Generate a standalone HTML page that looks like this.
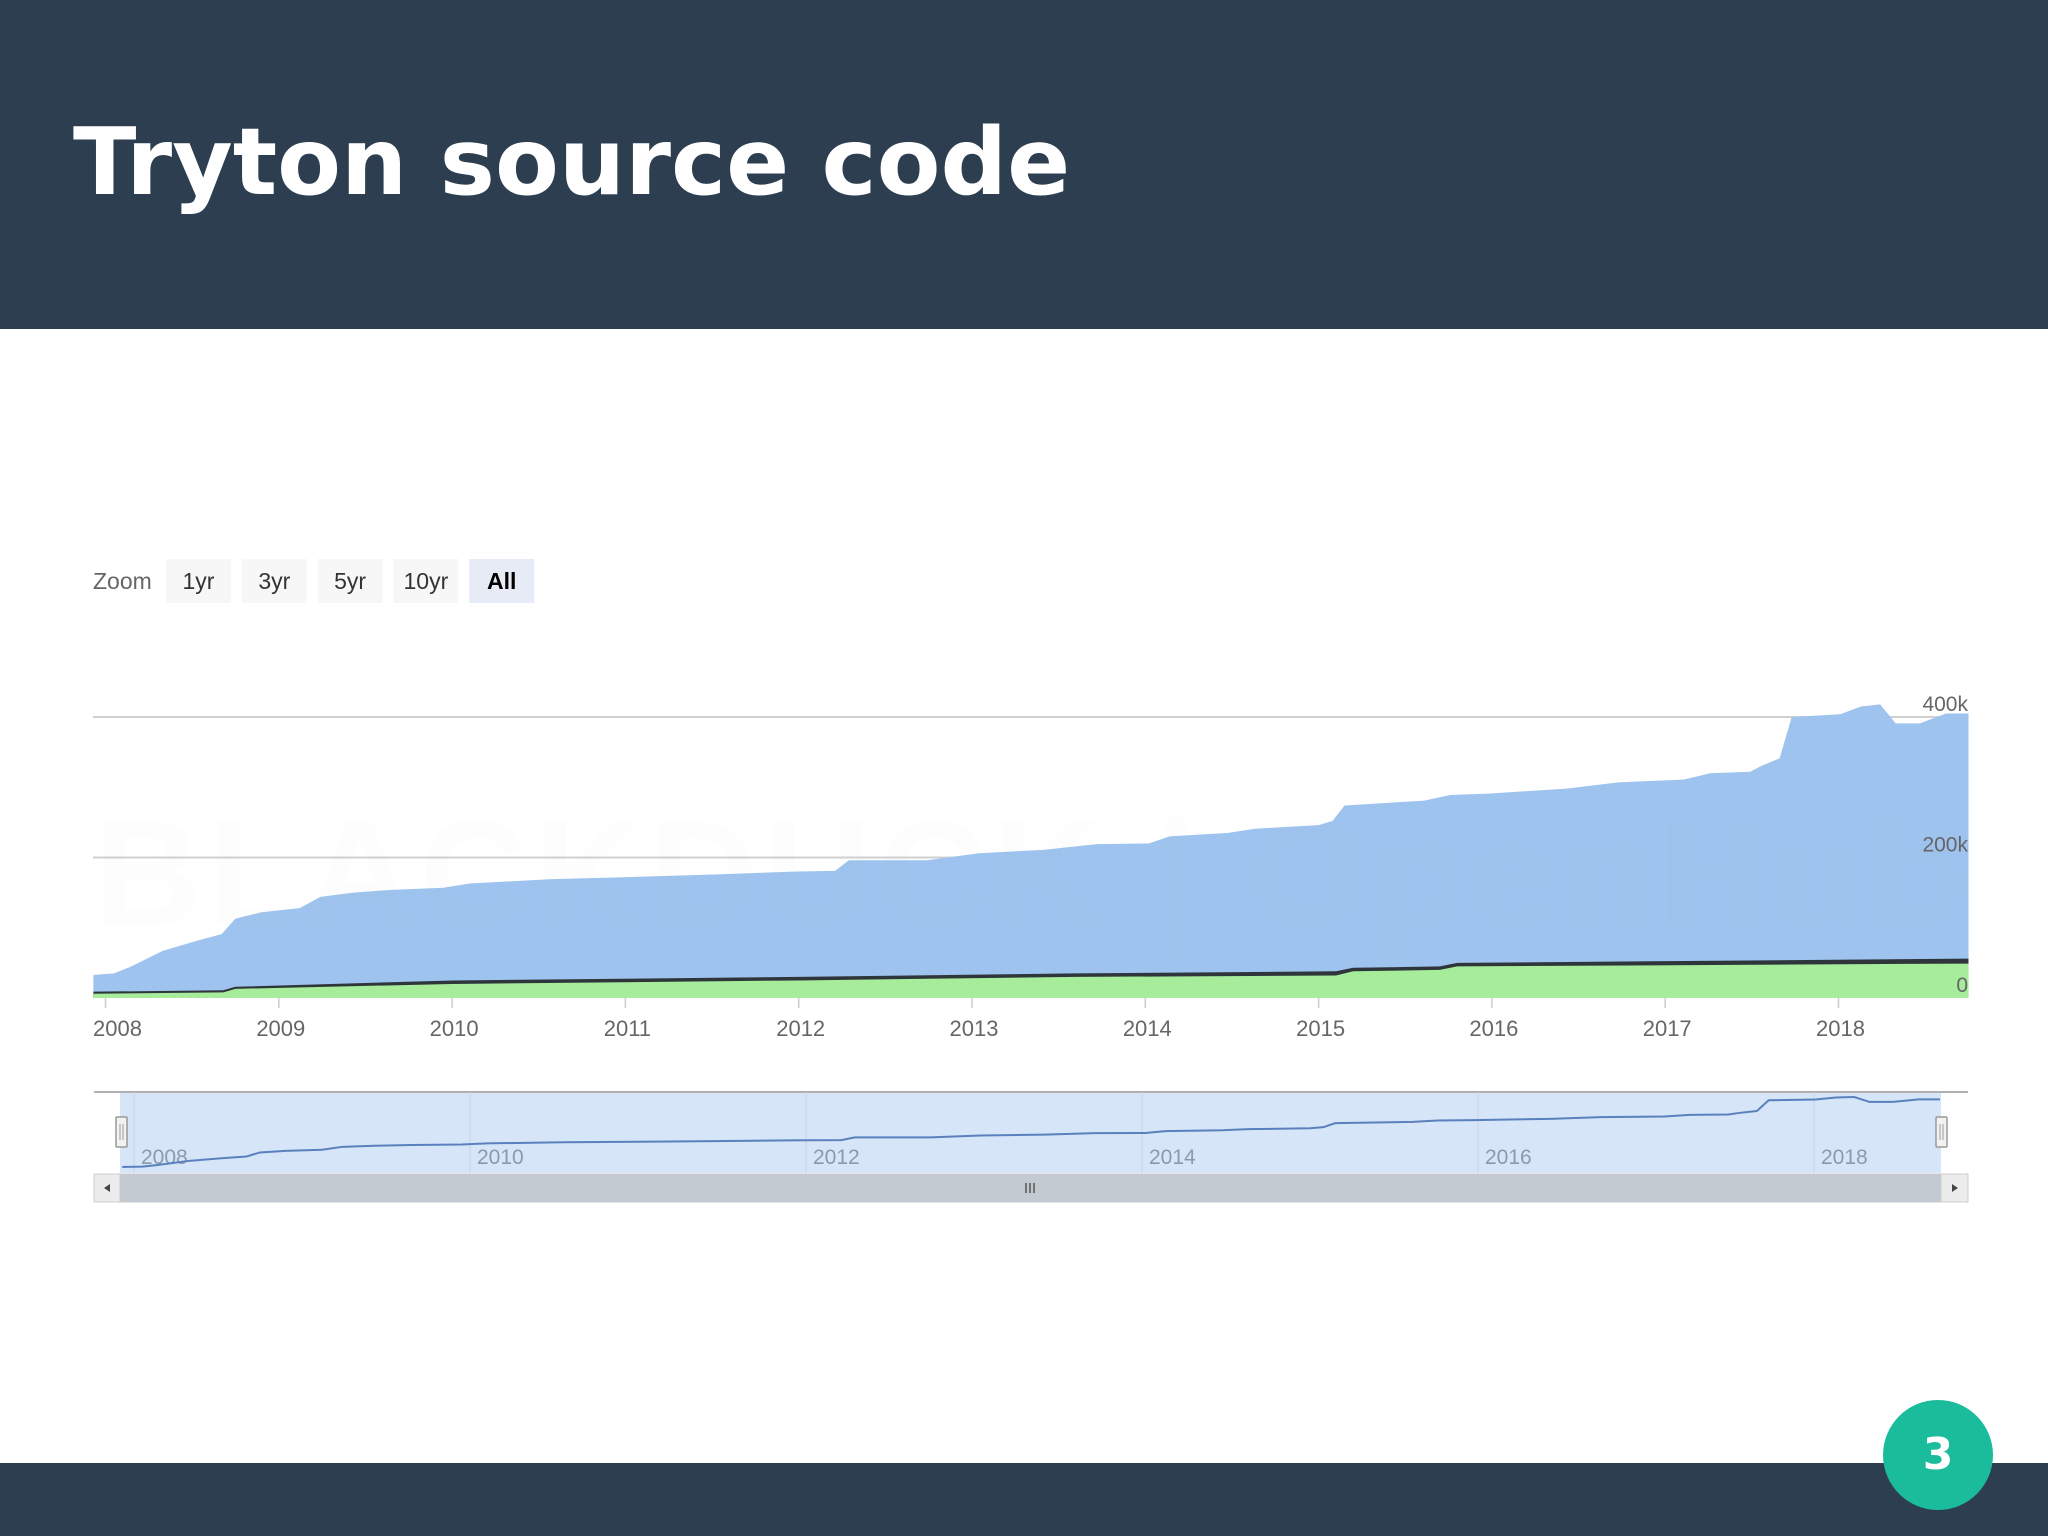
<!DOCTYPE html>
<html><head><meta charset="utf-8">
<style>
html,body{margin:0;padding:0;}
body{width:2048px;height:1536px;position:relative;background:#fff;overflow:hidden;font-family:"Liberation Sans",sans-serif;}
#header{position:absolute;left:0;top:0;width:2048px;height:329px;background:#2c3e50;}
#title{position:absolute;left:73px;top:107px;font-family:"DejaVu Sans",sans-serif;font-weight:bold;font-size:93px;color:#fff;margin:0;line-height:110px;}
#footer{position:absolute;left:0;top:1463px;width:2048px;height:73px;background:#2c3e50;}
#pagenum{position:absolute;left:1883px;top:1400px;width:110px;height:110px;border-radius:55px;background:#1abc9c;color:#fff;font-family:"DejaVu Sans",sans-serif;font-weight:bold;font-size:44px;line-height:110px;text-align:center;}
svg{position:absolute;left:0;top:0;}
</style></head><body>
<div id="header"><h1 id="title">Tryton source code</h1></div>
<div id="footer"></div>
<div id="pagenum">3</div>
<svg id="chart" width="2048" height="1536"></svg>
<script>
const yearTicks=[2008,2009,2010,2011,2012,2013,2014,2015,2016,2017,2018];
const navTicks=[2008,2010,2012,2014,2016,2018];
const yTicks=[0,200000,400000];
const yTickLabels=["0","200k","400k"];
const zoomButtons=["1yr","3yr","5yr","10yr","All"];
// total lines (top of blue area)
const totalDates=[2007.93,2008.05,2008.14,2008.33,2008.52,2008.67,2008.75,2008.90,2009.12,2009.24,2009.43,2009.65,2009.95,2010.10,2010.56,2011.01,2011.53,2011.99,2012.21,2012.29,2012.74,2013.04,2013.42,2013.72,2014.02,2014.14,2014.48,2014.63,2015.00,2015.08,2015.15,2015.61,2015.76,2015.98,2016.43,2016.73,2017.11,2017.26,2017.49,2017.56,2017.66,2017.73,2018.01,2018.13,2018.24,2018.33,2018.47,2018.62,2018.75];
const totalValues=[33000,35000,44000,67000,81000,91000,113000,122000,128000,144000,150000,154000,157000,163000,169000,172000,176000,180000,181000,196000,196000,206000,211000,219000,220000,230000,235000,241000,246000,252000,274000,281000,289000,291000,298000,307000,311000,320000,322000,331000,341000,400000,404000,415000,418000,391000,391000,405000,405000];
// code + comments (top of dark band)
const commentDates=[2007.93,2008.68,2008.75,2010.0,2012.0,2013.6,2015.1,2015.2,2015.7,2015.8,2018.75];
const commentValues=[9000,11000,16000,25000,30000,35000,38000,43000,45000,50000,56000];
// code (top of green area)
const codeDates=[2007.93,2008.68,2008.75,2010.0,2012.0,2013.6,2015.1,2015.2,2015.7,2015.8,2018.75];
const codeValues=[6000,8000,13000,20000,25000,30000,32000,38000,40000,45000,49000];

const NS="http://www.w3.org/2000/svg";
const svg=document.getElementById('chart');
function el(tag,attrs,parent){const e=document.createElementNS(NS,tag);for(const k in attrs)e.setAttribute(k,attrs[k]);(parent||svg).appendChild(e);return e;}
const X0=93,X1=1968,Y0=998,Y400=717;
function xs(t){return 105.5+(t-2008)*173.3;}
function ys(v){return Y0-v*(Y0-Y400)/400000;}
function nx(t){return 134+(t-2008)*168;}
function ny(v){return 1173-v*76/418000;}

// zoom controls
let t=el('text',{x:93,y:589,'font-size':23,fill:'#666'});t.textContent='Zoom';

zoomButtons.forEach((b,i)=>{
  const g=el('g',{});
  
  
  const bx=166+i*75.8;
  el('rect',{x:bx,y:559,width:65,height:44,fill:i==4?'#e6ebf5':'#f7f7f7'},g);
  const tx=el('text',{x:bx+32.5,y:589,'font-size':23,'text-anchor':'middle',fill:i==4?'#000':'#333','font-weight':i==4?'bold':'normal'},g);
  tx.textContent=b;
});

// grid
yTicks.forEach((v,i)=>{
  if(v>0){const l=el('line',{x1:X0,x2:X1,y1:ys(v),y2:ys(v),stroke:'#d0d0d0','stroke-width':2});
  }
});

function areaPath(dates,vals,xf,yf,base){
  let d='M'+xf(dates[0])+','+base;
  dates.forEach((t,i)=>{d+=' L'+xf(t)+','+yf(vals[i]);});
  d+=' L'+xf(dates[dates.length-1])+','+base+' Z';return d;
}
let p=el('path',{d:areaPath(totalDates,totalValues,xs,ys,Y0),fill:'#9dc3ee'});

p=el('path',{d:areaPath(commentDates,commentValues,xs,ys,Y0),fill:'#2f363b'});

p=el('path',{d:areaPath(codeDates,codeValues,xs,ys,Y0),fill:'#a6ec9b'});


// watermark
const wm=el('text',{x:93,y:925,'font-size':150,fill:'#999','fill-opacity':0.025,'font-weight':'bold',textLength:1870});
wm.textContent='BLACKDUCK | OpenHub';


// y labels
yTicks.forEach((v,i)=>{
  const tx=el('text',{x:1968,y:ys(v)-6,'font-size':21,'text-anchor':'end',fill:'#666'});
  tx.textContent=yTickLabels[i];
  
});
// x ticks
yearTicks.forEach((yr,i)=>{
  const l=el('line',{x1:xs(yr),x2:xs(yr),y1:Y0,y2:Y0+10,stroke:'#ccc','stroke-width':1.5});
  
  const tx=el('text',{x:xs(yr)+(i==0?12:2),y:1036,'font-size':22,'text-anchor':'middle',fill:'#666'});
  tx.textContent=yr;
  
});

// navigator
const nav=el('g',{});

el('rect',{x:120,y:1092,width:1821,height:81,fill:'#d6e5f8'},nav);
el('line',{x1:94,x2:1968,y1:1092,y2:1092,stroke:'#b0b0b0','stroke-width':2},nav);
navTicks.forEach(yr=>{
  const l=el('line',{x1:nx(yr),x2:nx(yr),y1:1092,y2:1173,stroke:'#c4d3e6','stroke-width':1},nav);
  
  const tx=el('text',{x:nx(yr)+7,y:1164,'font-size':21,fill:'#8a9bb0'},nav);
  tx.textContent=yr;
  
});
let nd='';totalDates.forEach((t,i)=>{nd+=(i?' L':'M')+nx(t)+','+ny(totalValues[i]);});
const nl=el('path',{d:nd,fill:'none',stroke:'#5a80bd','stroke-width':2},nav);

[116,1936].forEach((hx,i)=>{
  const h=el('rect',{x:hx,y:1117,width:11,height:30,fill:'#f2f2f2',stroke:'#999','stroke-width':1.5,rx:1},nav);
  
  
  el('line',{x1:hx+4,x2:hx+4,y1:1124,y2:1140,stroke:'#999'},nav);
  el('line',{x1:hx+7,x2:hx+7,y1:1124,y2:1140,stroke:'#999'},nav);
});
// scrollbar
const sb=el('g',{});

el('rect',{x:94,y:1174,width:1874,height:28,fill:'#eee',stroke:'#ccc'},sb);
el('rect',{x:120,y:1174,width:1821,height:28,fill:'#c4cad2'},sb);
[1026,1030,1034].forEach(lx=>el('line',{x1:lx,x2:lx,y1:1183,y2:1193,stroke:'#555','stroke-width':1.5},sb));
const lb=el('rect',{x:94,y:1174,width:26,height:28,fill:'#ececec',stroke:'#ccc'},sb);

el('path',{d:'M104,1188 L110,1184 L110,1192 Z',fill:'#444'},sb);
const rb=el('rect',{x:1941,y:1174,width:27,height:28,fill:'#ececec',stroke:'#ccc'},sb);

el('path',{d:'M1958,1188 L1952,1184 L1952,1192 Z',fill:'#444'},sb);
</script>
</body></html>
